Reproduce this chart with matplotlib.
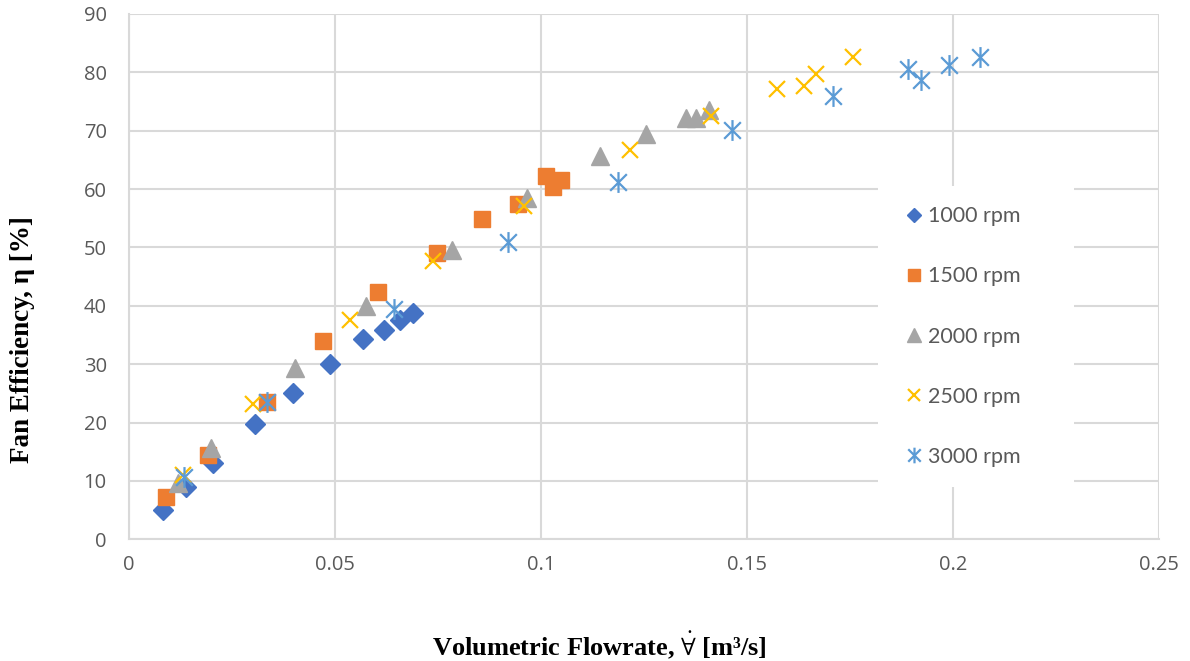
import numpy as np
import matplotlib
matplotlib.use("Agg")
import matplotlib.pyplot as plt
from matplotlib.path import Path

plt.rcParams["mathtext.fontset"] = "stix"

# -----------------------------
# Data
# -----------------------------
q_1000 = [0.0082, 0.0138, 0.0205, 0.0305, 0.0399, 0.0489, 0.0569, 0.0620, 0.0658, 0.0690]
eff_1000 = [5.1, 8.9, 13.0, 19.7, 25.0, 30.1, 34.4, 35.8, 37.5, 38.8]

q_1500 = [0.0090, 0.0191, 0.0334, 0.0470, 0.0605, 0.0748, 0.0857, 0.0944, 0.1012, 0.1029, 0.1048]
eff_1500 = [7.2, 14.4, 23.6, 33.9, 42.4, 49.1, 54.9, 57.5, 62.3, 60.4, 61.6]

q_2000 = [0.0118, 0.0198, 0.0404, 0.0576, 0.0783, 0.0967, 0.1144, 0.1255, 0.1352, 0.1376, 0.1407]
eff_2000 = [9.6, 15.6, 29.4, 39.9, 49.6, 58.5, 65.6, 69.4, 72.1, 72.2, 73.6]

q_2500 = [0.0132, 0.0302, 0.0537, 0.0737, 0.0959, 0.1217, 0.1413, 0.1572, 0.1638, 0.1668, 0.1757]
eff_2500 = [11.1, 23.1, 37.5, 47.7, 57.1, 66.7, 72.5, 77.2, 77.6, 79.7, 82.7]

q_3000 = [0.0134, 0.0336, 0.0642, 0.0919, 0.1187, 0.1463, 0.1709, 0.1890, 0.1922, 0.1991, 0.2066]
eff_3000 = [10.7, 23.5, 39.5, 50.9, 61.2, 70.1, 76.0, 80.5, 78.6, 81.3, 82.7]

labels = ["1000 rpm", "1500 rpm", "2000 rpm", "2500 rpm", "3000 rpm"]
x_ticks = [0, 0.05, 0.1, 0.15, 0.2, 0.25]
x_tick_labels = ["0", "0.05", "0.1", "0.15", "0.2", "0.25"]
y_ticks = [0, 10, 20, 30, 40, 50, 60, 70, 80, 90]

# Excel-like "star" marker: an x with a vertical stroke
star = Path([(-1, -1), (1, 1), (-1, 1), (1, -1), (0, -1.25), (0, 1.25)],
            [Path.MOVETO, Path.LINETO, Path.MOVETO, Path.LINETO, Path.MOVETO, Path.LINETO])

# -----------------------------
# Plotting
# -----------------------------
fig = plt.figure(figsize=(11.9, 6.61), dpi=100)
ax = fig.add_axes([0.1084, 0.184, 0.974 - 0.1084, 0.979 - 0.184])

grid_col = "#d9d9d9"
text_col = "#595959"

ax.plot(q_1000, eff_1000, linestyle="none", marker="D", ms=10, color="#4472C4", label=labels[0], zorder=3)
ax.plot(q_1500, eff_1500, linestyle="none", marker="s", ms=12, color="#ED7D31", label=labels[1], zorder=3)
ax.plot(q_2000, eff_2000, linestyle="none", marker="^", ms=13, color="#A5A5A5", label=labels[2], zorder=3)
ax.plot(q_2500, eff_2500, linestyle="none", marker="x", ms=12, mew=1.6, color="#FFC000", label=labels[3], zorder=3)
ax.plot(q_3000, eff_3000, linestyle="none", marker=star, ms=15, mew=1.6, mfc="none", color="#5B9BD5",
        label=labels[4], zorder=3)

ax.set_xlim(0, 0.25)
ax.set_ylim(0, 90)
ax.set_xticks(x_ticks)
ax.set_xticklabels(x_tick_labels)
ax.set_yticks(y_ticks)
ax.grid(True, color=grid_col, linewidth=1.5)
ax.set_axisbelow(True)
for side in ["top", "right"]:
    ax.spines[side].set_visible(False)
for side in ["left", "bottom"]:
    ax.spines[side].set_color(grid_col)
    ax.spines[side].set_linewidth(1.5)
ax.tick_params(length=0, labelsize=14.5, labelcolor=text_col)
ax.tick_params(axis="y", pad=16)
ax.tick_params(axis="x", pad=11)
for lab in ax.get_xticklabels() + ax.get_yticklabels():
    lab.set_fontfamily("Open Sans")

# legend box stretched to the width of the white panel in the original
leg = ax.legend(loc="center left", bbox_to_anchor=(0.727, 0.386, 0.19, 0.0), mode="expand",
                frameon=True, fancybox=False, edgecolor="none", facecolor="white", framealpha=1,
                markerscale=0.75, labelspacing=1.86, handlelength=1.5, handletextpad=-0.1,
                borderpad=0.95, borderaxespad=0.0, prop={"family": "Lato", "size": 15.5})
for t in leg.get_texts():
    t.set_color(text_col)

fig.text(0.504, 0.024, "Volumetric Flowrate, $\\dot{\\forall}$ [m³/s]", ha="center", va="center",
         fontsize=19, fontweight="bold", family="Liberation Serif")
fig.text(0.019, 0.486, "Fan Efficiency, η [%]", ha="center", va="center", rotation=90,
         fontsize=19.5, fontweight="bold", family="Liberation Serif")

fig.savefig("out.png", dpi=100)
